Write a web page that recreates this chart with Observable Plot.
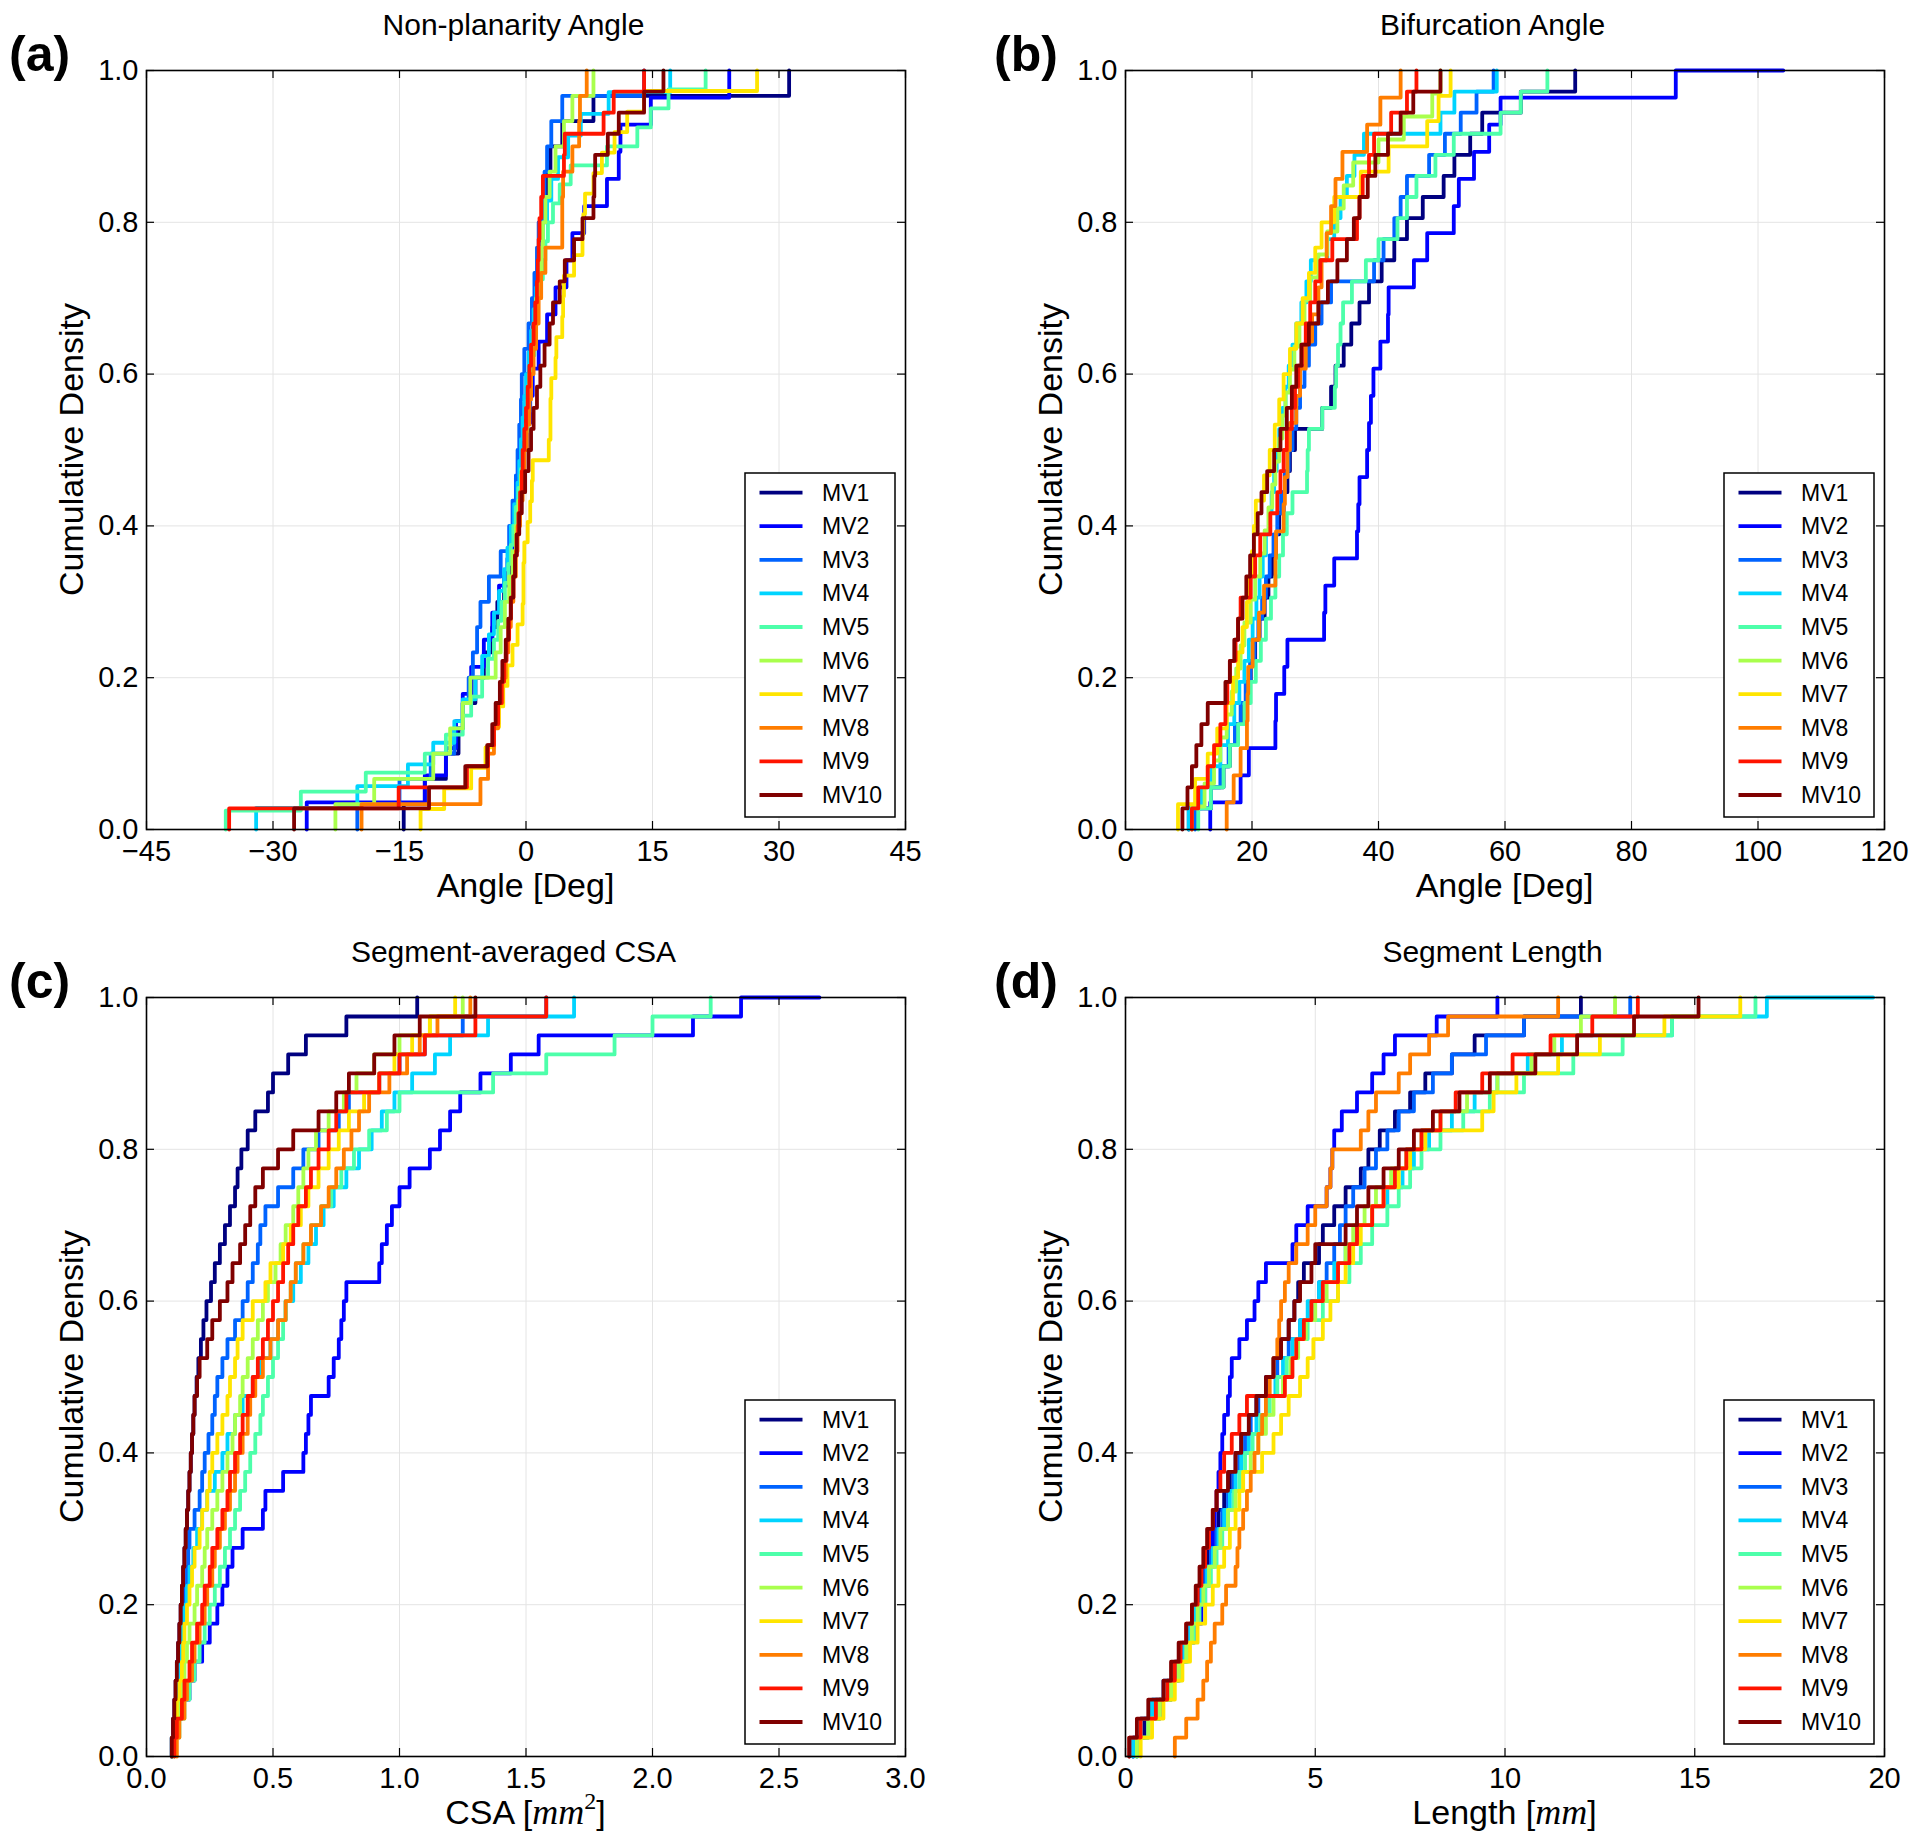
<!DOCTYPE html>
<html><head><meta charset="utf-8">
<script src="https://cdn.jsdelivr.net/npm/d3@7"></script>
<script src="https://cdn.jsdelivr.net/npm/@observablehq/plot@0.6"></script>
<style>
html,body{margin:0;padding:0;background:#fff;}
#fig{position:relative;width:1920px;height:1846px;background:#fff;overflow:hidden;font-family:"Liberation Sans",Arial,Helvetica,sans-serif;}
#fig > svg{position:absolute;}
</style></head><body><div id="fig"></div>
<script>
// ---------------- DATA ----------------
const seriesNames = ["MV1","MV2","MV3","MV4","MV5","MV6","MV7","MV8","MV9","MV10"];
const seriesColors = ["#000080","#0000ff","#0063ff","#00d4ff","#4dffaa","#a9ff4d","#ffe500","#ff7d00","#ff1400","#800000"];
const yTicks = [0,0.2,0.4,0.6,0.8,1.0];

// (a) Non-planarity angle samples [deg]
const nonPlanarityAngle = [
 [-14.5,-12,-9.5,-8,-7.5,-6,-5,-4,-3.4,-2.6,-2.0,-1.6,-1.2,-0.9,-0.6,-0.3,-0.1,0.1,0.5,0.8,1.1,1.4,1.7,1.9,2.2,2.5,2.9,4.3,8,31.2],
 [-26,-12,-9.5,-8.3,-7.5,-6.5,-5,-4,-3.2,-2.2,-1.5,-1.0,-0.6,-0.3,0.1,0.5,0.8,1.5,2.5,3.5,4.8,5.5,6.9,9.6,11,11.2,14.8,24.1],
 [-20,-15,-11.3,-8.5,-7.5,-6.8,-6.3,-5.8,-5.4,-4.4,-3.0,-2.0,-1.6,-1.2,-1.0,-0.8,-0.6,-0.5,-0.2,0.3,0.7,1.0,1.3,1.5,1.9,2.2,2.5,3.0,4.3,14],
 [-32,-20,-14,-11,-8.5,-7.5,-6,-5.2,-4.4,-3.8,-3.2,-2.6,-2.2,-1.8,-1.4,-1.0,-0.8,-0.6,-0.4,-0.2,0,0.3,0.6,0.9,1.2,1.5,1.8,2.0,2.5,3.0,3.8,5.0,6.5,9.8,17.1],
 [-35.6,-26.7,-19,-12,-9.5,-7.5,-6.5,-5.2,-4.5,-3.8,-3.3,-2.9,-2.5,-2.1,-1.8,-1.5,-1.2,-0.9,-0.6,-0.3,-0.1,0.2,0.4,0.6,0.8,1.0,1.2,1.4,1.7,2.0,2.3,2.6,3.2,4.0,5.3,9.6,13.2,14.8,16.9,21.3],
 [-22.6,-18,-11,-9,-7.5,-6.6,-3.6,-3.0,-2.5,-2.0,-1.6,-1.2,-0.9,-0.6,-0.3,0,0.2,0.4,0.7,0.9,1.2,1.5,1.8,2.0,2.3,2.8,3.5,4.5,5.5,8],
 [-12.5,-9.7,-6.5,-4.8,-3.8,-3.2,-2.7,-2.2,-1.6,-1.0,-0.4,-0.3,-0.3,-0.2,0.2,0.5,0.7,0.8,2.7,2.9,2.9,3.0,3.5,3.6,4.3,4.4,4.5,5.7,6.7,6.8,7.0,8.0,9.0,10.5,12,14,27.4],
 [-19.5,-5.4,-4.5,-3.8,-3.3,-2.8,-2.4,-2.1,-1.8,-1.5,-1.2,-1.0,-0.7,-0.4,-0.2,0.1,0.4,0.6,0.9,1.2,1.5,1.8,2.3,4.3,4.3,4.4,5.5,6.3,6.4,7.2],
 [-35.2,-15.1,-7.0,-4.5,-3.8,-3.3,-2.9,-2.6,-2.3,-2.0,-1.8,-1.5,-1.3,-1.1,-0.9,-0.7,-0.5,-0.4,-0.2,0,0.2,0.4,0.6,0.9,1.1,1.3,1.4,1.5,1.6,1.8,2.0,4.5,4.6,9.2,10.4,14],
 [-27.5,-11.5,-7.2,-4.6,-4.0,-3.6,-3.1,-2.8,-2.4,-2.1,-1.8,-1.5,-1.3,-1.1,-0.8,-0.5,-0.1,0.3,0.6,0.9,1.3,1.7,2.2,2.8,3.2,4.0,4.6,5.7,6.7,8,8.1,8.2,9.7,11,14,16.3]
];

// (b) Bifurcation angle samples [deg]
const bifurcationAngle = [
 [10,13.5,15.5,16.5,17.5,18.5,19.3,19.8,20.5,21.2,22.0,22.6,23.2,23.8,24.3,25.0,25.6,26.0,26.8,31.1,32.5,33.2,34.5,35.7,37.0,38.5,40.5,42.5,44.5,47,50.3,52,54.5,56.4,62.5,71.1],
 [13.4,18.2,19.5,23.7,23.8,25.1,25.6,31.4,31.6,33.0,36.6,36.8,37.0,38.2,38.5,38.8,39.2,40.3,41.5,41.6,45.6,47.7,51.9,52.7,55.1,57.5,59.3,87],
 [11,13.5,15,16.3,17.3,18.2,19,19.7,20.4,21.0,21.6,22.2,22.8,23.4,24.0,24.6,25.2,25.8,26.4,27.0,27.6,28.3,29.0,30,31,32.5,39.3,40.8,42.5,43.5,44.5,48,50.5,53,55.5,58.2],
 [10,12,13.5,15,16.2,17.2,18,18.8,19.5,20.1,20.7,21.2,21.7,22.2,22.7,23.1,23.5,23.9,24.3,24.8,25.3,25.8,26.4,27.0,27.8,28.6,29.3,31.9,33,34,35,36.2,37.7,49.8,52,58.7],
 [11.5,13.5,15.5,16.5,17.8,18.8,19.8,20.6,21.4,22.2,23.0,23.7,24.3,24.9,25.5,26.4,28.7,28.8,29.0,31.1,33.1,33.3,33.6,34,34.4,35.8,38.0,40,43,44.5,46,49,51.9,59.3,62.5,66.7],
 [10.5,12.5,14,15,16,16.8,17.5,18.2,18.8,19.8,20.5,21.3,22,22.6,23.2,23.7,24.3,24.8,25.3,26,26.7,27.5,28.3,29.2,30.5,31.9,33.5,34.5,36,40,44,48.5,49.8],
 [8.3,11,13,14.5,16,17,17.8,18.5,19.2,19.6,20,20.3,20.6,21.9,22.8,23.6,24.3,25,26,27,28,29,30,31,33,37.2,41.6,47.7,49.5,51.4],
 [16.0,17.1,18.2,19.2,19.3,19.4,20.1,21.1,21.9,23.7,23.8,25,25.2,25.6,26,27,27.6,28.5,29.5,30.5,31.0,31.8,32.5,33.2,34.3,38.2,40.3,43.5],
 [10.5,11.5,13,14,15,15.8,16.1,16.5,17.4,17.8,18.2,19.8,20.5,21.3,22.9,24,24.5,25,25.5,26.3,26.8,27.3,27.9,28.5,29.2,30,30.8,32.7,36.6,37,37.5,38.5,39.3,42,44.5,46],
 [9.0,9.8,10.5,11.2,12,13,15.8,16.5,17.2,17.8,18.5,19.1,19.7,20.3,20.9,21.5,22.4,23.5,24.5,25.5,26.3,27,27.8,29,30.5,32,33.5,35,36.1,37,38.3,39.5,41.5,43.5,45.5,49.8]
];

// (c) Segment-averaged CSA samples [mm^2]
const segmentCSA = [
 [0.10,0.105,0.11,0.115,0.12,0.125,0.13,0.135,0.14,0.145,0.15,0.155,0.16,0.165,0.17,0.175,0.18,0.185,0.19,0.198,0.205,0.215,0.225,0.237,0.255,0.27,0.29,0.31,0.33,0.35,0.36,0.375,0.40,0.43,0.48,0.50,0.56,0.63,0.79,1.07],
 [0.10,0.12,0.14,0.17,0.19,0.22,0.25,0.28,0.30,0.32,0.34,0.38,0.46,0.47,0.54,0.62,0.63,0.64,0.65,0.72,0.74,0.76,0.77,0.78,0.79,0.92,0.93,0.95,0.97,1.0,1.04,1.12,1.16,1.2,1.24,1.32,1.44,1.55,2.16,2.35],
 [0.10,0.11,0.115,0.12,0.125,0.13,0.135,0.14,0.15,0.16,0.165,0.17,0.19,0.21,0.22,0.23,0.245,0.26,0.27,0.28,0.30,0.32,0.35,0.38,0.40,0.42,0.44,0.45,0.47,0.52,0.58,0.62,0.68,0.76,0.80,0.92,1.0,1.1,1.25,1.58],
 [0.10,0.11,0.12,0.125,0.13,0.135,0.14,0.15,0.16,0.17,0.185,0.20,0.22,0.24,0.27,0.30,0.32,0.35,0.38,0.42,0.45,0.49,0.52,0.55,0.58,0.61,0.64,0.67,0.70,0.74,0.79,0.84,0.89,0.93,0.98,1.05,1.14,1.2,1.35,1.69],
 [0.11,0.13,0.15,0.17,0.19,0.21,0.23,0.25,0.27,0.29,0.31,0.33,0.35,0.37,0.39,0.41,0.43,0.45,0.46,0.48,0.50,0.52,0.54,0.55,0.57,0.59,0.62,0.65,0.69,0.73,0.77,0.82,0.88,0.95,1.0,1.37,1.58,1.85,2.0,2.23],
 [0.11,0.12,0.13,0.14,0.15,0.16,0.17,0.19,0.20,0.22,0.23,0.24,0.26,0.28,0.30,0.32,0.34,0.35,0.37,0.38,0.40,0.42,0.44,0.46,0.48,0.51,0.53,0.55,0.58,0.60,0.62,0.64,0.67,0.72,0.78,0.83,0.90,1.0,1.12,1.25],
 [0.10,0.11,0.12,0.13,0.14,0.145,0.15,0.16,0.17,0.18,0.19,0.21,0.22,0.24,0.25,0.26,0.28,0.30,0.32,0.33,0.35,0.36,0.38,0.42,0.47,0.49,0.54,0.57,0.61,0.64,0.68,0.72,0.76,0.80,0.86,0.92,0.98,1.05,1.12,1.22],
 [0.12,0.13,0.15,0.16,0.18,0.19,0.21,0.23,0.24,0.26,0.27,0.29,0.31,0.33,0.35,0.36,0.38,0.40,0.41,0.43,0.46,0.49,0.52,0.55,0.57,0.59,0.62,0.65,0.69,0.72,0.75,0.78,0.81,0.84,0.88,0.96,1.03,1.08,1.15,1.28],
 [0.11,0.12,0.14,0.15,0.17,0.18,0.20,0.22,0.23,0.25,0.26,0.28,0.30,0.32,0.33,0.35,0.37,0.38,0.40,0.42,0.44,0.46,0.48,0.50,0.52,0.54,0.56,0.58,0.60,0.63,0.65,0.68,0.72,0.75,0.79,0.92,1.0,1.1,1.3,1.58],
 [0.10,0.105,0.11,0.115,0.12,0.125,0.13,0.135,0.14,0.145,0.15,0.155,0.16,0.165,0.17,0.175,0.18,0.185,0.19,0.20,0.21,0.24,0.26,0.29,0.32,0.34,0.37,0.39,0.41,0.43,0.46,0.52,0.58,0.68,0.75,0.8,0.9,0.98,1.08,1.30]
];

// (d) Segment length samples [mm]
const segmentLength = [
 [0.2,0.5,0.9,1.2,1.4,1.55,1.7,1.85,1.95,2.05,2.15,2.3,2.45,2.6,2.75,2.9,3.05,3.25,3.45,3.7,3.9,4.1,4.3,4.45,4.55,4.7,5.1,5.2,5.5,5.8,6.2,6.4,6.7,7.1,7.5,7.9,8.6,9.2,10.5,12.0],
 [0.3,0.6,0.9,1.2,1.4,1.6,1.8,2.0,2.1,2.2,2.25,2.3,2.35,2.4,2.45,2.5,2.55,2.6,2.7,2.75,2.8,3.0,3.2,3.4,3.5,3.7,4.4,4.5,4.8,5.3,5.4,5.45,5.5,5.7,6.1,6.5,6.8,7.1,8.2,9.8],
 [0.2,0.4,0.7,1.0,1.3,1.5,1.7,1.85,2.0,2.1,2.25,2.4,2.55,2.7,2.85,3.0,3.15,3.3,3.5,3.75,4.0,4.3,4.6,4.9,5.1,5.3,5.5,5.65,5.8,6.0,6.3,6.6,6.9,7.2,7.6,8.1,8.6,9.5,10.5,13.3],
 [0.2,0.4,0.7,1.1,1.35,1.55,1.7,1.85,2.0,2.15,2.3,2.45,2.6,2.75,2.9,3.05,3.25,3.45,3.7,3.95,4.15,4.4,4.6,4.8,5.1,5.5,5.8,6.1,6.5,6.9,7.3,7.6,8.0,8.6,9.2,9.8,10.6,11.5,14.4,16.9],
 [0.3,0.6,0.9,1.2,1.45,1.65,1.8,1.95,2.1,2.25,2.4,2.55,2.7,2.85,3.0,3.15,3.35,3.55,3.8,4.0,4.25,4.5,4.8,5.2,5.6,5.9,6.2,6.5,6.9,7.2,7.5,7.8,8.3,8.9,9.6,10.5,11.8,13.1,14.4,16.6],
 [0.3,0.6,0.9,1.2,1.4,1.6,1.75,1.9,2.05,2.2,2.35,2.5,2.7,2.9,3.1,3.3,3.5,3.7,3.9,4.15,4.35,4.55,4.75,5.0,5.3,5.6,5.8,6.0,6.3,6.6,7.0,7.4,7.8,8.3,9.0,9.8,10.7,11.3,12.0,12.9],
 [0.4,0.7,1.0,1.3,1.5,1.7,1.9,2.1,2.3,2.45,2.6,2.75,2.9,3.0,3.1,3.6,3.9,4.1,4.3,4.6,4.8,4.95,5.2,5.4,5.6,5.8,6.0,6.2,6.5,6.8,7.2,7.5,7.9,9.4,9.7,10.3,11.4,12.5,14.2,16.2],
 [1.3,1.6,1.9,2.05,2.15,2.25,2.35,2.55,2.65,2.9,2.95,3.0,3.1,3.2,3.3,3.4,3.5,3.6,3.7,3.8,3.9,4.0,4.05,4.1,4.2,4.3,4.5,4.8,5.0,5.3,5.4,5.45,6.2,6.4,6.6,7.2,7.5,8.0,8.5,11.4],
 [0.1,0.4,0.8,1.1,1.3,1.45,1.6,1.75,1.9,2.0,2.1,2.2,2.3,2.4,2.5,2.6,2.8,3.0,3.2,4.2,4.4,4.5,4.7,4.9,5.2,5.6,5.9,6.1,6.5,6.8,7.1,7.4,7.8,8.3,8.7,9.4,10.2,11.2,12.3,13.5],
 [0.1,0.3,0.6,1.0,1.2,1.4,1.6,1.75,1.85,1.95,2.05,2.15,2.3,2.4,2.7,2.9,3.05,3.25,3.45,3.7,3.9,4.1,4.3,4.45,4.6,4.9,5.0,5.8,6.1,6.4,6.8,7.2,7.6,8.1,8.8,9.6,10.8,11.9,13.4,15.1]
];

// Where one curve keeps running along 1.0 to the right
const tailA = null;
const tailB = {series: "MV2", x: 104};
const tailC = {series: "MV2", x: 2.66};
const tailD = {series: "MV4", x: 19.7};

const ticksA = [-45,-30,-15,0,15,30,45];
const ticksB = [0,20,40,60,80,100,120];
const ticksC = [0,0.5,1.0,1.5,2.0,2.5,3.0];
const ticksD = [0,5,10,15,20];

// ---------------- LAYOUT ----------------
const FRAME = 759, ML = 110, MR = 20, MT = 20, MB = 60;
const FONT = '"Liberation Sans", Arial, Helvetica, sans-serif';
const minus = d => d < 0 ? "\u2212" + Math.abs(d) : String(d);

const panels = [
  {letter:"(a)", title:"Non-planarity Angle", xlabel:[{t:"Angle [Deg]"}], values:nonPlanarityAngle, domain:[-45,45], ticks:ticksA, fmt:minus, tail:tailA, fx:146, fy:70, lx:9},
  {letter:"(b)", title:"Bifurcation Angle", xlabel:[{t:"Angle [Deg]"}], values:bifurcationAngle, domain:[0,120], ticks:ticksB, fmt:d=>String(d), tail:tailB, fx:1125, fy:70, lx:994},
  {letter:"(c)", title:"Segment-averaged CSA", xlabel:[{t:"CSA ["},{t:"mm",m:true},{t:"2",sup:true},{t:"]"}], values:segmentCSA, domain:[0,3], ticks:ticksC, fmt:d3.format(".1f"), tail:tailC, fx:146, fy:997, lx:9},
  {letter:"(d)", title:"Segment Length", xlabel:[{t:"Length ["},{t:"mm",m:true},{t:"]"}], values:segmentLength, domain:[0,20], ticks:ticksD, fmt:d=>String(d), tail:tailD, fx:1125, fy:997, lx:994}
];

const fig = document.getElementById("fig");

for (const p of panels) {
  const rows = [];
  seriesNames.forEach((name, i) => {
    const vals = p.values[i].slice().sort((a,b)=>a-b);
    const n = vals.length;
    rows.push({series:name, x:vals[0], y:0});
    vals.forEach((v,j) => rows.push({series:name, x:v, y:(j+1)/n}));
    if (p.tail && p.tail.series === name) rows.push({series:name, x:p.tail.x, y:1});
  });
  const chart = Plot.plot({
    width: FRAME+ML+MR, height: FRAME+MT+MB,
    marginLeft: ML, marginRight: MR, marginTop: MT, marginBottom: MB,
    style: {fontFamily: FONT, fontSize: "29px", color: "#000", background: "transparent", overflow: "visible"},
    x: {domain: p.domain},
    y: {domain: [0,1]},
    color: {domain: seriesNames, range: seriesColors},
    marks: [
      Plot.gridX(p.ticks, {stroke:"#e4e4e4", strokeOpacity:1, strokeWidth:1}),
      Plot.gridY(yTicks, {stroke:"#e4e4e4", strokeOpacity:1, strokeWidth:1}),
      Plot.line(rows, {x:"x", y:"y", z:"series", stroke:"series", curve:"step-after", strokeWidth:3.8}),
      Plot.tickX(p.ticks, {x:d=>d, insetTop:FRAME-8, stroke:"#000", strokeWidth:1.2}),
      Plot.tickX(p.ticks, {x:d=>d, insetBottom:FRAME-8, stroke:"#000", strokeWidth:1.2}),
      Plot.tickY(yTicks, {y:d=>d, insetRight:FRAME-8, stroke:"#000", strokeWidth:1.2}),
      Plot.tickY(yTicks, {y:d=>d, insetLeft:FRAME-8, stroke:"#000", strokeWidth:1.2}),
      Plot.frame({stroke:"#000", strokeWidth:1.6}),
      Plot.axisX(p.ticks, {tickSize:0, tickPadding:11, tickFormat:p.fmt, label:null}),
      Plot.axisY(yTicks, {tickSize:0, tickPadding:8, tickFormat:d3.format(".1f"), label:null})
    ]
  });
  chart.style.position = "absolute";
  chart.style.left = (p.fx - ML) + "px";
  chart.style.top = (p.fy - MT) + "px";
  fig.appendChild(chart);
}

// ---------------- TEXT & LEGEND OVERLAY ----------------
const ov = d3.select(fig).append("svg")
  .attr("width",1920).attr("height",1846)
  .style("left","0px").style("top","0px").style("pointer-events","none")
  .attr("font-family", FONT);

for (const p of panels) {
  const cx = p.fx + FRAME/2, cy = p.fy + FRAME/2;
  // panel letter
  ov.append("text").attr("x", p.lx).attr("y", p.fy + 1)
    .attr("font-size", 50).attr("font-weight","bold").text(p.letter);
  // title
  ov.append("text").attr("x", cx - 12).attr("y", p.fy - 35)
    .attr("text-anchor","middle").attr("font-size", 30).text(p.title);
  // y label
  ov.append("text").attr("transform", `translate(${p.fx - 75},${cy}) rotate(-90)`)
    .attr("text-anchor","middle").attr("dominant-baseline","central")
    .attr("font-size", 34).text("Cumulative Density");
  // x label
  const xl = ov.append("text").attr("x", cx).attr("y", p.fy + FRAME + 68)
    .attr("text-anchor","middle").attr("font-size", 34);
  let shifted = false;
  for (const part of p.xlabel) {
    const ts = xl.append("tspan").text(part.t);
    if (part.m) ts.attr("font-family",'"Liberation Serif", "DejaVu Serif", serif').attr("font-style","italic").attr("font-size",36);
    if (part.sup) { ts.attr("font-family",'"Liberation Serif", "DejaVu Serif", serif').attr("font-size",24).attr("dy",-15); shifted = true; }
    else if (shifted) { ts.attr("dy",15); shifted = false; }
  }
  // legend
  const LW = 150, LH = 344;
  const bx = p.fx + FRAME - 10 - LW, by = p.fy + FRAME - 12 - LH;
  const lg = ov.append("g");
  lg.append("rect").attr("x",bx).attr("y",by).attr("width",LW).attr("height",LH)
    .attr("fill","#fff").attr("stroke","#000").attr("stroke-width",1.5);
  seriesNames.forEach((name,i) => {
    const ry = by + 19.6 + i*33.6;
    lg.append("line").attr("x1",bx+14.5).attr("x2",bx+57.5).attr("y1",ry).attr("y2",ry)
      .attr("stroke",seriesColors[i]).attr("stroke-width",3.8);
    lg.append("text").attr("x",bx+77).attr("y",ry).attr("dominant-baseline","central")
      .attr("font-size",23).text(name);
  });
}
</script></body></html>
